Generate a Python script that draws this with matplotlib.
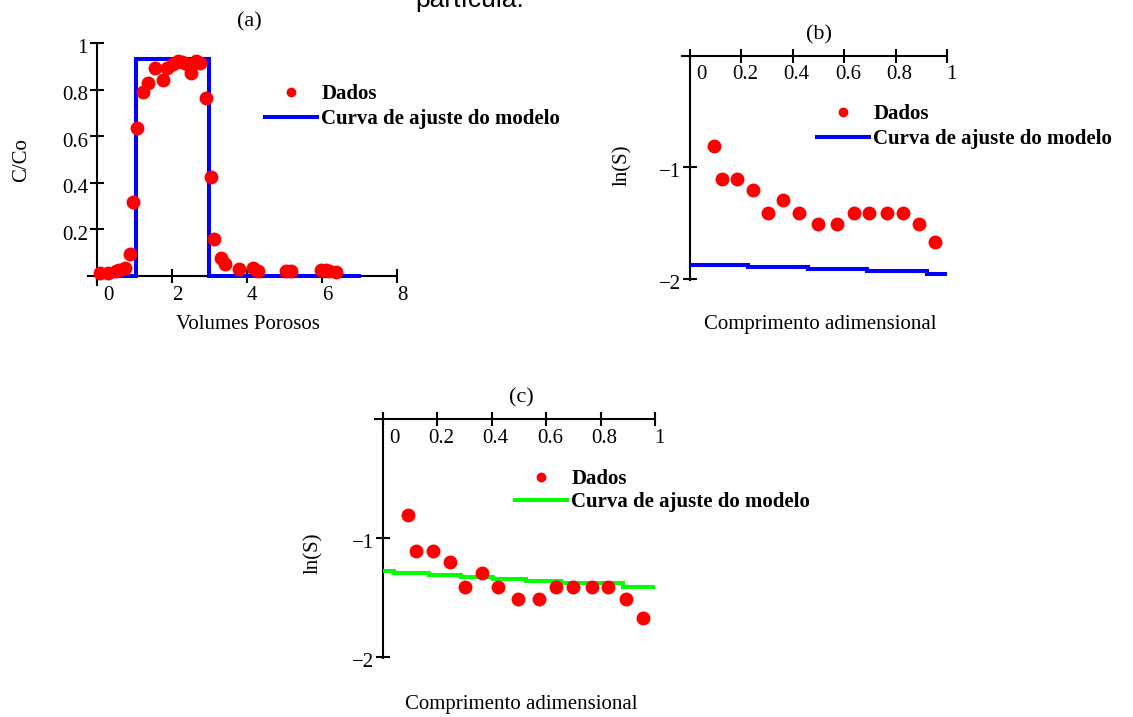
import matplotlib
matplotlib.use("Agg")
import matplotlib.pyplot as plt
from matplotlib.lines import Line2D
from matplotlib.transforms import ScaledTranslation

W, H, DPI = 1133, 717, 100

# ---- (a) breakthrough curve: relative concentration vs pore volumes ----
pv_obs = [0.07, 0.30, 0.50, 0.60, 0.74, 0.87, 0.97, 1.08, 1.24, 1.37, 1.55,
          1.75, 1.87, 2.04, 2.17, 2.26, 2.39, 2.52, 2.64, 2.76, 2.91, 3.04,
          3.13, 3.31, 3.41, 3.80, 4.17, 4.30, 5.05, 5.18, 5.98, 6.10, 6.18,
          6.37]
cc_obs = [0.012, 0.012, 0.020, 0.026, 0.033, 0.095, 0.316, 0.636, 0.788,
          0.827, 0.894, 0.841, 0.894, 0.908, 0.923, 0.920, 0.908, 0.870,
          0.923, 0.913, 0.763, 0.426, 0.160, 0.076, 0.050, 0.030, 0.033,
          0.023, 0.023, 0.023, 0.026, 0.026, 0.023, 0.016]
pv_edges = [0.0, 1.05, 2.99, 7.05]
cc_levels = [0.0, 0.93, 0.0]

# ---- (b), (c) ln(S) along the dimensionless length ----
z_obs = [0.092, 0.123, 0.183, 0.247, 0.303, 0.363, 0.424, 0.497, 0.572,
         0.637, 0.697, 0.768, 0.829, 0.892, 0.955]
lns_obs = [-0.81, -1.11, -1.11, -1.20, -1.41, -1.29, -1.41, -1.51, -1.51,
           -1.41, -1.41, -1.41, -1.41, -1.51, -1.67]

z_edges_b = [0.0, 0.227, 0.46, 0.687, 0.921, 1.0]
lns_fit_b = [-1.878, -1.892, -1.909, -1.929, -1.952]

z_edges_c = [0.0, 0.039, 0.168, 0.287, 0.405, 0.524, 0.654, 0.884, 1.0]
lns_fit_c = [-1.28, -1.295, -1.31, -1.325, -1.343, -1.36, -1.38, -1.415]

xt_a = [0, 2, 4, 6, 8]
yt_a = [0.2, 0.4, 0.6, 0.8, 1.0]
yt_a_labels = ["0.2", "0.4", "0.6", "0.8", "1"]
xt_z = [0, 0.2, 0.4, 0.6, 0.8, 1.0]
xt_z_labels = ["0", "0.2", "0.4", "0.6", "0.8", "1"]
yt_z = [-1, -2]
yt_z_labels = ["\u22121", "\u22122"]
legend_labels = ["Dados", "Curva de ajuste do modelo"]

RED, BLUE, GREEN = "#ff0000", "#0000ff", "#00ff00"
SERIF = "Liberation Serif"
plt.rcParams["font.family"] = SERIF
plt.rcParams["font.size"] = 15

fig = plt.figure(figsize=(W / DPI, H / DPI), dpi=DPI)
fig.patch.set_facecolor("white")


def fx(px):
    return px / W


def fy(py):
    return 1 - py / H


def axes_px(left, top, right, bottom):
    return fig.add_axes([fx(left), fy(bottom), (right - left) / W, (bottom - top) / H])


def shift(text, dx, dy):
    text.set_transform(text.get_transform()
                       + ScaledTranslation(dx / DPI, dy / DPI, fig.dpi_scale_trans))


def style_axes(ax):
    ax.set_facecolor("none")
    for side in ("top", "right"):
        ax.spines[side].set_visible(False)
    ax.spines["left"].set_position(("data", 0))
    ax.spines["bottom"].set_position(("data", 0))
    for side in ("left", "bottom"):
        ax.spines[side].set_linewidth(1.5)
        ax.spines[side].set_zorder(1)
    ax.tick_params(direction="inout", length=10, width=1.5, labelsize=15,
                   colors="black")
    ax.tick_params(axis="y", pad=1.5)


def legend(ax, line_color, left, top, spacing):
    handles = [Line2D([], [], ls="", marker="o", ms=6, color=RED, mec=RED),
               Line2D([], [], color=line_color, lw=2.9)]
    ax.legend(handles, legend_labels, loc="upper left",
              bbox_to_anchor=(fx(left), fy(top)), bbox_transform=fig.transFigure,
              frameon=False, borderpad=0, borderaxespad=0, handlelength=2.5,
              handletextpad=0.2, labelspacing=spacing,
              prop={"family": SERIF, "weight": "bold", "size": 15})


# ---------------- (a) ----------------
axa = axes_px(87.6, 43, 397, 285.3)
style_axes(axa)
axa.set_xlim(-0.25, 8)
axa.set_ylim(-0.04, 1.0)
axa.stairs(cc_levels, pv_edges, baseline=None, color=BLUE, lw=2.9, zorder=2)
axa.plot(pv_obs, cc_obs, ls="", marker="o", ms=9, color=RED, mec=RED,
         zorder=3, clip_on=False)
axa.set_xticks(xt_a)
axa.set_xticklabels([str(v) for v in xt_a])
axa.set_yticks(yt_a)
axa.set_yticklabels(yt_a_labels)
axa.tick_params(axis="x", pad=2.5)
for i, lab in enumerate(axa.get_xticklabels()):
    shift(lab, 11 if i == 0 else 5, 0)
for lab in axa.get_yticklabels():
    shift(lab, 0, -3.5)
legend(axa, BLUE, 265, 84, 0.25)
fig.text(fx(249), fy(22), "(a)", ha="center", va="center", fontsize=16)
fig.text(fx(248), fy(324), "Volumes Porosos", ha="center", va="center")
fig.text(fx(22), fy(160), "C/Co", ha="center", va="center", rotation=90)


def ln_panel(left, top, right, bottom, edges, fit, color):
    ax = axes_px(left, top, right, bottom)
    style_axes(ax)
    ax.set_xlim(-0.03, 1.0)
    ax.set_ylim(-2.01, 0.0)
    ax.stairs(fit, edges, baseline=None, color=color, lw=2.9, zorder=2)
    ax.plot(z_obs, lns_obs, ls="", marker="o", ms=9, color=RED, mec=RED,
            zorder=3, clip_on=False)
    ax.set_xticks(xt_z)
    ax.set_xticklabels(xt_z_labels)
    ax.set_yticks(yt_z)
    ax.set_yticklabels(yt_z_labels)
    ax.tick_params(axis="x", pad=2)
    for i, lab in enumerate(ax.get_xticklabels()):
        shift(lab, 11 if i == 0 else 4, 0)
    for lab in ax.get_yticklabels():
        shift(lab, 0, -3)
    return ax


# ---------------- (b) ----------------
axb = ln_panel(682.3, 55.5, 947, 280, z_edges_b, lns_fit_b, BLUE)
legend(axb, BLUE, 817, 104, 0.25)
fig.text(fx(819), fy(35), "(b)", ha="center", va="center", fontsize=16)
fig.text(fx(820), fy(325), "Comprimento adimensional", ha="center", va="center")
fig.text(fx(622), fy(165), "ln(S)", ha="center", va="center", rotation=90)

# ---------------- (c) ----------------
axc = ln_panel(374.8, 419, 655, 658.2, z_edges_c, lns_fit_c, GREEN)
legend(axc, GREEN, 515, 469, 0.15)
fig.text(fx(521), fy(398), "(c)", ha="center", va="center", fontsize=16)
fig.text(fx(521), fy(704), "Comprimento adimensional", ha="center", va="center")
fig.text(fx(313), fy(553), "ln(S)", ha="center", va="center", rotation=90)

# caption fragment running off the top edge
fig.text(fx(415), fy(7), "partícula.", ha="left", va="baseline",
         family="Liberation Sans", fontsize=19)

fig.savefig("out.png", dpi=DPI)
